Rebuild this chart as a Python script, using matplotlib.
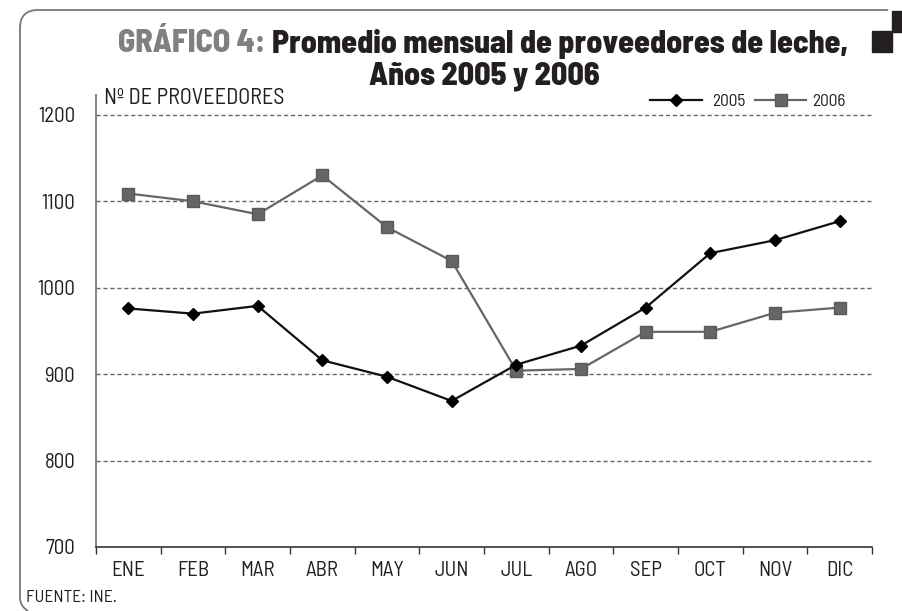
import matplotlib
matplotlib.use('Agg')
import matplotlib.pyplot as plt
from matplotlib.path import Path
from matplotlib.patches import PathPatch, Rectangle

# Datos
meses = ['ENE', 'FEB', 'MAR', 'ABR', 'MAY', 'JUN', 'JUL', 'AGO', 'SEP', 'OCT', 'NOV', 'DIC']
prov_2005 = [976, 970, 979, 916, 897, 869, 911, 933, 977, 1040, 1055, 1077]
prov_2006 = [1109, 1100, 1085, 1130, 1070, 1031, 904, 906, 949, 949, 971, 977]
y_ticks = [700, 800, 900, 1000, 1100, 1200]

fuente = ['Barlow Semi Condensed', 'DejaVu Sans']
plt.rcParams['font.family'] = fuente

W, H = 903, 611
fig = plt.figure(figsize=(W / 100, H / 100), dpi=100)

# capa de fondo en pixeles para el marco y los cuadrados
fondo = fig.add_axes([0, 0, 1, 1], zorder=0)
fondo.set_xlim(0, W)
fondo.set_ylim(H, 0)
fondo.axis('off')

r = 18
verts = [(888, 10), (20 + r, 10), (20, 10), (20, 10 + r), (20, 598), (20, 606), (28, 611)]
codes = [Path.MOVETO, Path.LINETO, Path.CURVE3, Path.CURVE3, Path.LINETO, Path.CURVE3, Path.CURVE3]
fondo.add_patch(PathPatch(Path(verts, codes), fill=False, edgecolor='#777777', lw=1.3))
fondo.add_patch(Rectangle((892, 11), 11, 21, color='#231f20'))
fondo.add_patch(Rectangle((872, 31), 20, 21, color='#231f20'))

# grafico principal
ax = fig.add_axes([96 / W, 64 / H, 776 / W, 452 / H], zorder=1)
ax.patch.set_alpha(0)
x = list(range(len(meses)))
ax.plot(x, prov_2006, color='#666666', lw=1.6, marker='s', markersize=8,
        markeredgecolor='#5a5a5a', markerfacecolor='#666666', zorder=3)
ax.plot(x, prov_2005, color='#111111', lw=1.6, marker='D', markersize=6,
        markerfacecolor='#000000', markeredgecolor='#000000', zorder=4)

ax.set_xlim(-0.5, 11.5)
ax.set_ylim(700, 1223)
ax.set_yticks(y_ticks)
ax.set_xticks(x)
ax.set_xticklabels(meses)
ax.set_xticks([i - 0.5 for i in range(13)], minor=True)
ax.tick_params(axis='x', which='major', length=0, pad=10, labelsize=15, labelcolor='#231f20')
ax.tick_params(axis='x', which='minor', length=5, width=1, color='#333333', direction='out')
ax.tick_params(axis='y', length=0, pad=15, labelsize=15, labelcolor='#231f20')

for yv in y_ticks[1:]:
    ax.axhline(yv, color='#666666', lw=1, ls=(0, (3, 2)), zorder=1)

for s in ['top', 'right']:
    ax.spines[s].set_visible(False)
ax.spines['left'].set_color('#777777')
ax.spines['left'].set_linewidth(1.3)
ax.spines['bottom'].set_color('#333333')
ax.spines['bottom'].set_linewidth(1.2)

# titulo en dos colores, ajustado al ancho de la referencia
fig.canvas.draw()
rend = fig.canvas.get_renderer()
est = dict(fontweight=800)
tam = 22
prueba = fondo.text(0, 0, 'GRÁFICO 4: Promedio mensual de proveedores de leche,', fontsize=tam, **est)
ancho = prueba.get_window_extent(rend).width
prueba.remove()
tam = min(tam * 732 / ancho, 23)

t1 = fondo.text(118, 44, 'GRÁFICO 4:', fontsize=tam, color='#808080', ha='left', va='center', **est)
bb = t1.get_window_extent(rend)
esp = fondo.text(0, 0, 'a b', fontsize=tam, **est).get_window_extent(rend).width - \
    fondo.text(0, 0, 'ab', fontsize=tam, **est).get_window_extent(rend).width
for t in fondo.texts[-2:]:
    t.remove()
fig.text((bb.x1 + esp) / W, 1 - 44 / H, 'Promedio mensual de proveedores de leche,', fontsize=tam,
         color='#231f20', ha='left', va='center', **est)
fondo.text(484, 76, 'Años 2005 y 2006', fontsize=tam, color='#231f20', ha='center', va='center', **est)

fondo.text(104, 99, 'Nº DE PROVEEDORES', fontsize=16, color='#231f20', ha='left', va='center')
fondo.text(26, 598, 'FUENTE: INE.', fontsize=12.5, color='#231f20', ha='left', va='center')

# leyenda manual
fondo.plot([650, 702], [100, 100], color='#111111', lw=1.6)
fondo.plot([676], [100], marker='D', markersize=6, color='#000000')
fondo.text(712, 101, '2005', fontsize=12.5, color='#231f20', ha='left', va='center')
fondo.plot([755, 806], [100, 100], color='#666666', lw=1.6)
fondo.plot([781], [100], marker='s', markersize=8, color='#666666', markeredgecolor='#5a5a5a')
fondo.text(812, 101, '2006', fontsize=12.5, color='#231f20', ha='left', va='center')
fondo.set_xlim(0, W)
fondo.set_ylim(H, 0)

fig.savefig('out.png', dpi=100)
